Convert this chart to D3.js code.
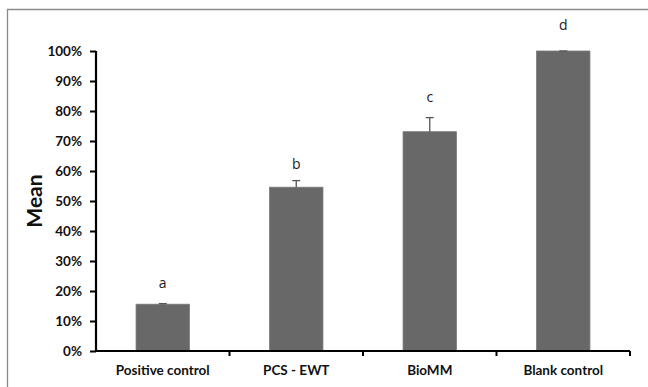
<!DOCTYPE html>
<html>
<head>
<meta charset="utf-8">
<script src="https://cdn.jsdelivr.net/npm/d3@7"></script>
<style>
  body { margin: 0; background: #fff; }
  svg { display: block; font-family: Lato, "Open Sans", sans-serif; }
</style>
</head>
<body>
<div id="container"></div>
<script>
var categories = ["Positive control", "PCS - EWT", "BioMM", "Blank control"];
var means = [15.6, 54.6, 73.1, 100];
var errors = [0.2, 2.2, 4.7, 0];
var letters = ["a", "b", "c", "d"];
var letterAt = [22.8, 62.3, 84.8, 108.7];
var yTicks = [0, 10, 20, 30, 40, 50, 60, 70, 80, 90, 100];

var W = 648, H = 387;
var margin = {top: 51, right: 18, bottom: 36, left: 96},
  width = W - margin.left - margin.right,
  height = H - margin.top - margin.bottom;

var root = d3.select("#container")
    .append("svg")
    .attr("width", W)
    .attr("height", H);

// outer frame (runs off the right and bottom edges)
root.append("path")
    .attr("d", "M7.5," + (H + 2) + "V9.5H" + (W + 2))
    .attr("fill", "none")
    .attr("stroke", "#8a8a8a")
    .attr("stroke-width", 1.3);

var svg = root.append("g")
    .attr("transform", "translate(" + margin.left + "," + margin.top + ")");

var x = d3.scaleBand()
    .domain(categories)
    .range([0, width])
    .paddingInner(0.6)
    .paddingOuter(0.3);

var y = d3.scaleLinear()
    .domain([0, 100])
    .range([height, 0]);

// bars
svg.selectAll("rect.bar")
    .data(categories)
    .enter()
    .append("rect")
    .attr("class", "bar")
    .attr("x", function(d) { return x(d); })
    .attr("y", function(d, i) { return y(means[i]); })
    .attr("width", x.bandwidth())
    .attr("height", function(d, i) { return height - y(means[i]); })
    .attr("fill", "#686868")
    .attr("stroke", "#7a7a7a")
    .attr("stroke-width", 0.8);

// error bars (upper only)
var err = svg.selectAll("g.err")
    .data(categories)
    .enter()
    .append("g")
    .attr("class", "err")
    .attr("transform", function(d) { return "translate(" + (x(d) + x.bandwidth() / 2) + ",0)"; });

err.append("line")
    .attr("y1", function(d, i) { return y(means[i]); })
    .attr("y2", function(d, i) { return y(means[i] + errors[i]); })
    .attr("stroke", "#555")
    .attr("stroke-width", 1.3);

err.append("line")
    .attr("x1", -4).attr("x2", 4)
    .attr("y1", function(d, i) { return y(means[i] + errors[i]); })
    .attr("y2", function(d, i) { return y(means[i] + errors[i]); })
    .attr("stroke", "#555")
    .attr("stroke-width", 1.3);

// significance letters
svg.selectAll("text.letter")
    .data(categories)
    .enter()
    .append("text")
    .attr("class", "letter")
    .attr("x", function(d) { return x(d) + x.bandwidth() / 2; })
    .attr("y", function(d, i) { return y(letterAt[i]); })
    .attr("dy", "0.35em")
    .attr("text-anchor", "middle")
    .attr("font-size", 14)
    .attr("font-family", "'Open Sans', sans-serif")
    .attr("fill", "#1a1a1a")
    .text(function(d, i) { return letters[i]; });

// y axis
var yAxis = svg.append("g")
    .call(d3.axisLeft(y)
        .tickValues(yTicks)
        .tickSize(6)
        .tickPadding(8)
        .tickFormat(function(d) { return d + "%"; }));
yAxis.select(".domain").attr("stroke", "#000").attr("stroke-width", 2.2)
    .attr("d", "M0," + height + "V0");
yAxis.selectAll(".tick line").attr("stroke", "#000").attr("stroke-width", 2);
yAxis.selectAll(".tick text")
    .attr("font-size", 13.5)
    .attr("font-weight", "bold")
    .attr("font-family", "Lato, 'Open Sans', sans-serif")
    .attr("fill", "#111");

// x axis
var xAxis = svg.append("g")
    .attr("transform", "translate(0," + height + ")")
    .call(d3.axisBottom(x).tickSize(0).tickPadding(14));
xAxis.select(".domain").attr("stroke", "#000").attr("stroke-width", 2.2)
    .attr("d", "M0,0H" + width);
xAxis.selectAll(".tick text")
    .attr("font-size", 13.5)
    .attr("font-weight", "bold")
    .attr("font-family", "Lato, 'Open Sans', sans-serif")
    .attr("fill", "#111");

// category separator ticks
xAxis.selectAll("line.sep")
    .data(categories)
    .enter()
    .append("line")
    .attr("class", "sep")
    .attr("x1", function(d) { return x(d) + x.bandwidth() / 2 + x.step() / 2; })
    .attr("x2", function(d) { return x(d) + x.bandwidth() / 2 + x.step() / 2; })
    .attr("y1", 0)
    .attr("y2", 5)
    .attr("stroke", "#000")
    .attr("stroke-width", 2);

// y axis title
svg.append("text")
    .attr("transform", "translate(-61," + (height / 2) + ") rotate(-90)")
    .attr("text-anchor", "middle")
    .attr("dy", "0.35em")
    .attr("font-size", 21)
    .attr("font-weight", "bold")
    .attr("fill", "#111")
    .text("Mean");
</script>
</body>
</html>
